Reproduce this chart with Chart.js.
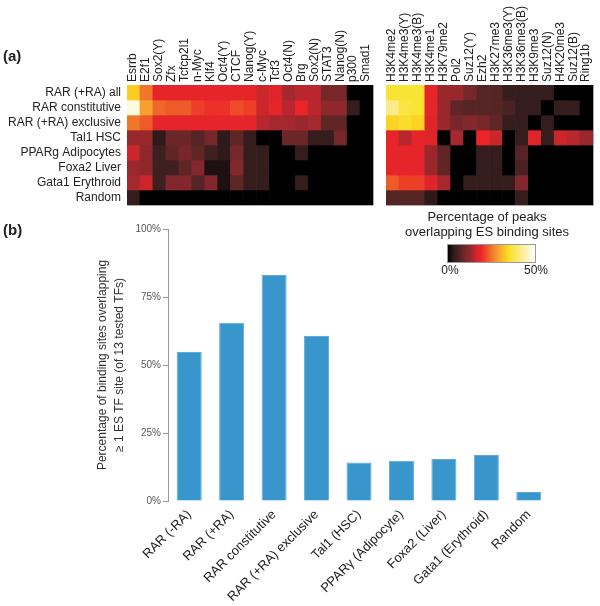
<!DOCTYPE html>
<html>
<head>
<meta charset="utf-8">
<script src="https://cdn.jsdelivr.net/npm/chart.js@4.4.1/dist/chart.umd.min.js"></script>
<style>
  body { margin: 0; background: #fff; font-family: "Liberation Sans", Arial, sans-serif; color: #222; }
  #wrap { position: relative; width: 600px; height: 606px; overflow: hidden; }
  #wrap canvas, #wrap .txt { position: absolute; }
</style>
</head>
<body>
<div id="wrap">
  <canvas id="tfChart" width="380" height="210" style="left:0;top:0"></canvas>
  <canvas id="histChart" width="220" height="210" style="left:380px;top:0"></canvas>
  <canvas id="barChart" width="600" height="391" style="left:0;top:215px"></canvas>

  <div class="txt" style="left:3px;top:47px;font-weight:bold;font-size:15px">(a)</div>
  <div class="txt" style="left:3px;top:221px;font-weight:bold;font-size:15px">(b)</div>

  <div class="txt" style="left:387px;top:209px;width:200px;text-align:center;font-size:13px;line-height:15px">Percentage of peaks<br>overlapping ES binding sites</div>
  <div class="txt" id="colorBar" style="left:447px;top:244px;width:87px;height:17px;border:1px solid #999"></div>
  <div class="txt" style="left:430px;top:263px;width:40px;text-align:center;font-size:12px">0%</div>
  <div class="txt" style="left:516px;top:263px;width:40px;text-align:center;font-size:12px">50%</div>
</div>

<script>
// rows shared by both heatmaps
const rowNames = ['RAR (+RA) all', 'RAR constitutive', 'RAR (+RA) exclusive', 'Tal1 HSC',
  'PPARg Adipocytes', 'Foxa2 Liver', 'Gata1 Erythroid', 'Random'];

// ES transcription factors (left heatmap)
const tfNames = ['Esrrb', 'E2f1', 'Sox2(Y)', 'Zfx', 'Tcfcp2l1', 'n-Myc', 'Klf4', 'Oct4(Y)', 'CTCF',
  'Nanog(Y)', 'c-Myc', 'Tcf3', 'Oct4(N)', 'Brg', 'Sox2(N)', 'STAT3', 'Nanog(N)', 'p300', 'Smad1'];

// % of peaks overlapping, one array per row
const tfAll        = [33, 25, 18, 18, 18, 18, 18, 18, 18, 18, 16, 17, 14, 15, 15, 10, 10, 0, 0];
const tfConst      = [48, 29, 24, 23, 23, 21, 20, 20, 22, 21, 16, 18, 15, 19, 15, 12, 12, 4, 0];
const tfExclusive  = [25, 23, 18, 18, 18, 18, 18, 18, 18, 18, 15, 14, 14, 13, 14, 8, 8, 0, 0];
const tfTal1       = [13, 13, 3, 9, 9, 7, 10, 3, 8, 4, 0, 0, 9, 9, 4, 4, 10, 0, 0];
const tfPparg      = [16, 12, 5, 8, 10, 8, 5, 3, 10, 4, 4, 0, 0, 4, 0, 0, 0, 0, 0];
const tfFoxa2      = [13, 12, 5, 5, 8, 11, 2, 2, 11, 4, 4, 0, 0, 0, 0, 0, 0, 0, 0];
const tfGata1      = [14, 16, 5, 11, 11, 7, 11, 2, 8, 4, 4, 0, 0, 4, 0, 0, 0, 0, 0];
const tfRandom     = [4, 0, 0, 0, 0, 0, 0, 0, 0, 0, 0, 0, 0, 0, 0, 0, 0, 0, 0];

// histone marks / chromatin factors (right heatmap)
const histNames = ['H3K4me2', 'H3K4me3(Y)', 'H3K4me3(B)', 'H3K4me1', 'H3K79me2', 'Pol2', 'Suz12(Y)',
  'Ezh2', 'H3K27me3', 'H3K36me3(Y)', 'H3K36me3(B)', 'H3K9me3', 'Suz12(N)', 'H4K20me3', 'Suz12(B)', 'Ring1b'];

const histAll       = [36, 36, 36, 18, 13, 13, 10, 7, 7, 4, 4, 4, 4, 0, 0, 0];
const histConst     = [42, 37, 36, 18, 13, 8, 7, 7, 7, 6, 4, 4, 0, 4, 4, 0];
const histExclusive = [34, 35, 34, 17, 13, 10, 11, 10, 8, 4, 4, 0, 4, 0, 0, 0];
const histTal1      = [18, 15, 18, 17, 0, 14, 0, 19, 16, 0, 4, 17, 4, 16, 15, 13];
const histPparg     = [18, 18, 18, 13, 8, 0, 0, 4, 4, 0, 7, 0, 0, 0, 0, 0];
const histFoxa2     = [18, 18, 18, 13, 8, 0, 0, 4, 4, 0, 6, 0, 0, 0, 0, 0];
const histGata1     = [23, 21, 21, 17, 14, 0, 4, 4, 4, 4, 11, 0, 0, 0, 0, 0];
const histRandom    = [7, 7, 7, 3, 0, 0, 0, 0, 0, 0, 4, 0, 0, 0, 0, 0];

// panel (b)
const groupNames = ['RAR (-RA)', 'RAR (+RA)', 'RAR constitutive', 'RAR (+RA) exclusive', 'Tal1 (HSC)',
  'PPARγ (Adipocyte)', 'Foxa2 (Liver)', 'Gata1 (Erythroid)', 'Random'];
const overlapPct = [54.8, 65.5, 83.1, 60.7, 14.2, 14.8, 15.4, 16.9, 3.3];
const yTicks = [0, 25, 50, 75, 100];

const FONT = '"Liberation Sans", Arial, sans-serif';

// black -> red -> yellow -> white, position 0..1 of the 0-50% range
const heatStops = [
  [0.00, [0, 0, 0]],
  [0.06, [46, 26, 26]],
  [0.10, [62, 32, 32]],
  [0.16, [96, 38, 38]],
  [0.22, [130, 40, 44]],
  [0.28, [165, 40, 46]],
  [0.34, [222, 38, 42]],
  [0.38, [236, 36, 40]],
  [0.44, [238, 76, 40]],
  [0.50, [240, 118, 42]],
  [0.58, [246, 160, 48]],
  [0.66, [252, 204, 32]],
  [0.72, [248, 228, 50]],
  [0.84, [250, 236, 140]],
  [1.00, [255, 255, 250]]
];

function heatColor(v) {
  const t = Math.max(0, Math.min(1, v / 50));
  for (let i = 1; i < heatStops.length; i++) {
    if (t <= heatStops[i][0]) {
      const [t0, c0] = heatStops[i - 1];
      const [t1, c1] = heatStops[i];
      const f = (t - t0) / (t1 - t0);
      const c = c0.map((x, k) => Math.round(x + (c1[k] - x) * f));
      return 'rgb(' + c.join(',') + ')';
    }
  }
  return 'rgb(255,255,250)';
}

// light grey line under and right of the heatmap
const frameLines = {
  id: 'frameLines',
  afterDraw(chart) {
    const { ctx, chartArea: a } = chart;
    ctx.save();
    ctx.strokeStyle = '#aaa';
    ctx.lineWidth = 1;
    ctx.beginPath();
    ctx.moveTo(a.left, a.bottom + 0.5);
    ctx.lineTo(a.right + 0.5, a.bottom + 0.5);
    ctx.lineTo(a.right + 0.5, a.top);
    ctx.stroke();
    ctx.restore();
  }
};

function makeHeatmap(id, cols, rows, showRowNames, padding) {
  new Chart(document.getElementById(id), {
    type: 'bar',
    data: {
      labels: cols,
      datasets: rows.map((row, r) => ({
        label: rowNames[r],
        data: row.map(() => 1),
        backgroundColor: row.map(heatColor),
        borderWidth: 0,
        barPercentage: 1,
        categoryPercentage: 1
      }))
    },
    options: {
      responsive: false,
      animation: false,
      layout: { padding: padding },
      plugins: { legend: { display: false }, tooltip: { enabled: false } },
      scales: {
        x: {
          position: 'top',
          stacked: true,
          grid: { display: false, drawTicks: false },
          border: { display: false },
          ticks: { autoSkip: false, minRotation: 90, maxRotation: 90, padding: 3, labelOffset: 14, color: '#222', font: { family: FONT, size: 12 } },
          afterFit(scale) {
            scale.height = 85;
            scale.paddingLeft = 0;
            scale.paddingRight = 0;
          }
        },
        y: {
          display: showRowNames,
          stacked: true,
          min: 0,
          max: rowNames.length,
          reverse: true,
          grid: { display: false, drawTicks: false },
          border: { display: false },
          afterBuildTicks(scale) { scale.ticks = rowNames.map((_, i) => ({ value: i + 0.5 })); },
          ticks: { autoSkip: false, padding: 6, color: '#222', font: { family: FONT, size: 12 }, callback: (v, i) => rowNames[i] },
          afterFit(scale) {
            scale.width = showRowNames ? 127 : 0;
            scale.paddingTop = 0;
            scale.paddingBottom = 0;
          }
        }
      }
    },
    plugins: [frameLines]
  });
}

document.addEventListener('DOMContentLoaded', function () {
  makeHeatmap('tfChart', tfNames,
    [tfAll, tfConst, tfExclusive, tfTal1, tfPparg, tfFoxa2, tfGata1, tfRandom],
    true, { left: 0, top: 0, right: 7, bottom: 5 });

  makeHeatmap('histChart', histNames,
    [histAll, histConst, histExclusive, histTal1, histPparg, histFoxa2, histGata1, histRandom],
    false, { left: 6, top: 0, right: 7, bottom: 5 });

  // colour key
  document.getElementById('colorBar').style.background =
    'linear-gradient(to right,' + heatStops.map(s => 'rgb(' + s[1].join(',') + ') ' + (s[0] * 100) + '%').join(',') + ')';

  // panel (b) bar chart
  new Chart(document.getElementById('barChart'), {
    type: 'bar',
    data: {
      labels: groupNames,
      datasets: [{
        data: overlapPct,
        backgroundColor: '#3996cc',
        borderColor: '#5eaadb',
        borderWidth: { left: 1, right: 1, top: 1, bottom: 0 },
        barPercentage: 0.59,
        categoryPercentage: 1
      }]
    },
    options: {
      responsive: false,
      animation: false,
      layout: { padding: { left: 90, top: 14, right: 50, bottom: 0 } },
      plugins: { legend: { display: false }, tooltip: { enabled: false } },
      scales: {
        x: {
          grid: { display: false, drawTicks: false },
          border: { display: false },
          ticks: { autoSkip: false, minRotation: 45, maxRotation: 45, padding: 6, color: '#222', font: { family: FONT, size: 13 } },
          afterFit(scale) { scale.height = 105; }
        },
        y: {
          min: 0,
          max: 100,
          afterBuildTicks(scale) { scale.ticks = yTicks.map(v => ({ value: v })); },
          ticks: { padding: 2, color: '#555', font: { family: FONT, size: 10 }, callback: v => v + '%' },
          grid: { drawOnChartArea: false, tickLength: 5, color: '#999' },
          border: { color: '#999' },
          title: {
            display: true,
            text: ['Percentage of binding sites overlapping', '≥ 1 ES TF site (of 13 tested TFs)'],
            color: '#333',
            font: { family: FONT, size: 12, lineHeight: 1.4 },
            padding: { top: 4, bottom: 0 }
          },
          afterFit(scale) { scale.width = 78; }
        }
      }
    }
  });
});
</script>
</body>
</html>
